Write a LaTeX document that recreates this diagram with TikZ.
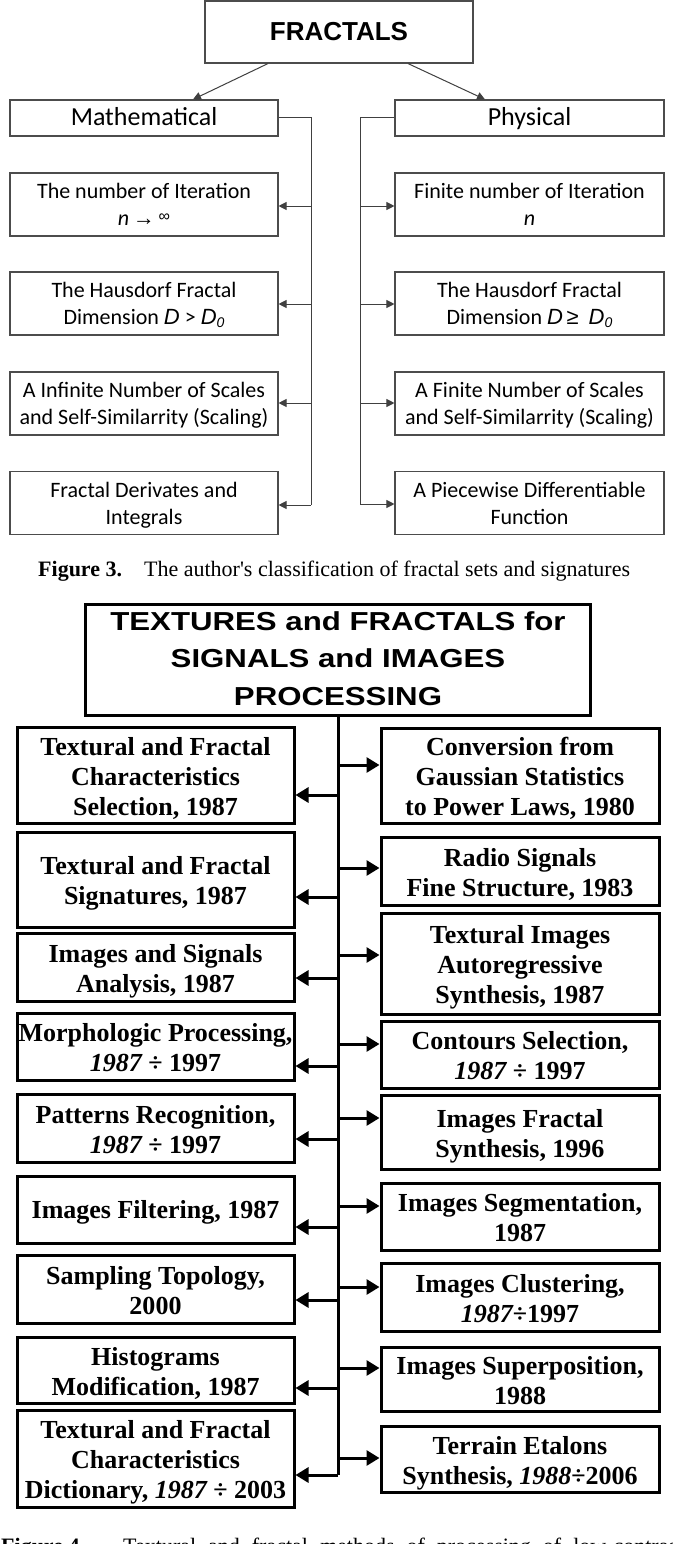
\documentclass[tikz,border=0pt]{standalone}
\usepackage{fontspec}
\setmainfont{Liberation Serif}
\newfontfamily\calfont{Carlito}
\newfontfamily\arialfont{Liberation Sans}
\newfontfamily\capfont{Liberation Serif}
\newfontfamily\titlefont[FakeStretch=1.2]{Liberation Sans}
\usetikzlibrary{arrows.meta,calc}
\newcommand\stthree{\rule[-6pt]{0pt}{24pt}}
\newcommand\sthead{\rule[-6pt]{0pt}{27.7pt}}
\newcommand\stfour{\rule[-6pt]{0pt}{29pt}}
\newcommand\sttitle{\rule[-6pt]{0pt}{28.6pt}}
\newcommand\fa{\rule{0pt}{21.5pt}}
\newcommand\fb{\rule{0pt}{26pt}}
\newcommand\fc{\rule{0pt}{22.5pt}}
\begin{document}
\begin{tikzpicture}[x=1pt,y=-1pt,
 box3/.style={draw=black!70, line width=1.1pt, inner sep=0pt, align=center,
   minimum width=268pt, minimum height=63pt, font=\calfont\fontsize{22}{27}\selectfont,
   execute at begin node=\stthree, execute at end node=\stthree},
 head3/.style={box3, minimum height=36pt, font=\calfont\fontsize{26}{30}\selectfont,
   execute at begin node=\sthead, execute at end node=\sthead},
 line3/.style={draw=black!75, line width=1pt},
 arr3/.style={line3, -{Triangle[length=8pt,width=8pt]}},
 box4/.style={draw=black, line width=3pt, inner sep=0pt, align=center,
   font=\bfseries\fontsize{26}{30}\selectfont,
   execute at begin node=\stfour, execute at end node=\stfour},
 lbox/.style={box4, minimum width=277pt},
 rbox/.style={box4, minimum width=278pt},
 line4/.style={draw=black, line width=3pt},
 arr4/.style={line4, -{Triangle[length=13pt,width=15pt]}},
 capt/.style={anchor=base west, inner sep=0pt, font=\capfont\fontsize{22}{26}\selectfont},
]
\useasboundingbox (0,0) rectangle (672,1544);
\fill[white] (0,0) rectangle (672,1544);
\clip (0,0) rectangle (672,1544);

% ---------------- Figure 3 ----------------
\node[box3, minimum height=62pt, font=\arialfont\bfseries\fontsize{26}{30}\selectfont,
  execute at begin node=\sttitle, execute at end node=\sttitle] (F) at (339,32) {FRACTALS};
\node[head3] (M) at (144,118) {Mathematical};
\node[head3, minimum width=269pt] (P) at (529.5,118) {Physical};

\node[box3] (A1) at (144,204.5) {\fa The number of Iteration\\ \textit{n}\,{\arialfont\fontsize{22}{22}\selectfont →}\,\raisebox{4pt}{\arialfont\fontsize{16}{16}\selectfont ∞}};
\node[box3] (A2) at (144,303.5) {\fa The Hausdorf Fractal\\ Dimension {\arialfont\itshape D} > {\arialfont\itshape D\raisebox{-3pt}{\fontsize{14}{14}\selectfont 0}}};
\node[box3] (A3) at (144,403.5) {\fa A Infinite Number of Scales\\ and Self-Similarrity (Scaling)};
\node[box3] (A4) at (144,503) {\fa Fractal Derivates and\\ Integrals};

\node[box3, minimum width=269pt] (B1) at (529.5,204.5) {\fa Finite number of Iteration\\ \textit{n}};
\node[box3, minimum width=269pt] (B2) at (529.5,303.5) {\fa The Hausdorf Fractal\\ Dimension {\arialfont\itshape D}\,{\arialfont ≥}\ \ {\arialfont\itshape D\raisebox{-3pt}{\fontsize{14}{14}\selectfont 0}}};
\node[box3, minimum width=269pt] (B3) at (529.5,403.5) {\fa A Finite Number of Scales\\ and Self-Similarrity (Scaling)};
\node[box3, minimum width=269pt] (B4) at (529.5,503) {\fa A Piecewise Differentiable\\ Function};

\draw[arr3] ([xshift=-71pt]F.south) -- ([xshift=49pt]M.north);
\draw[arr3] ([xshift=69pt]F.south) -- ([xshift=-44.5pt]P.north);

\coordinate (l1) at (311,206);
\coordinate (l2) at (311,304);
\coordinate (l3) at (311,403);
\coordinate (l4) at (311,505);
\coordinate (r1) at (360,206);
\coordinate (r2) at (360,304);
\coordinate (r3) at (360,403);
\coordinate (r4) at (360,504);
\draw[line3] (M.east) -| (l4);
\draw[line3] (P.west) -| (r4);
\foreach \i in {1,2,3,4}{
  \draw[arr3] (l\i) -- (l\i -| A\i.east);
  \draw[arr3] (r\i) -- (r\i -| B\i.west);
}

\node[capt] (cap3) at (38,576) {\textbf{Figure 3.}\hspace{22pt}The author's classification of fractal sets and signatures};

% ---------------- Figure 4 ----------------
\node[box4, minimum width=505pt, minimum height=111pt, font=\titlefont\bfseries\fontsize{26}{37.5}\selectfont,
  execute at begin node=\sttitle, execute at end node=\sttitle] (T) at (338,659.5) {\fc TEXTURES and FRACTALS for\\SIGNALS and IMAGES\\PROCESSING};

\node[lbox, minimum height=96pt] (L1) at (155.5,775) {\fb Textural and Fractal\\Characteristics\\Selection, 1987};
\node[lbox, minimum height=95pt] (L2) at (155.5,879.5) {\fb Textural and Fractal\\Signatures, 1987};
\node[lbox, minimum height=68pt] (L3) at (155.5,967) {\fb Images and Signals\\Analysis, 1987};
\node[lbox, minimum height=67pt] (L4) at (155.5,1046.5) {\fb Morphologic Processing,\\{\itshape 1987} ÷ 1997};
\node[lbox, minimum height=68pt] (L5) at (155.5,1128) {\fb Patterns Recognition,\\{\itshape 1987} ÷ 1997};
\node[lbox, minimum height=67pt] (L6) at (155.5,1209.5) {Images Filtering, 1987};
\node[lbox, minimum height=68pt] (L7) at (155.5,1289) {\fb Sampling Topology,\\2000};
\node[lbox, minimum height=66pt] (L8) at (155.5,1370) {\fb Histograms\\Modification, 1987};
\node[lbox, minimum height=97pt] (L9) at (155.5,1458.5) {\fb Textural and Fractal\\Characteristics\\Dictionary, {\itshape 1987} ÷ 2003};

\node[rbox, minimum height=95pt] (R1) at (520,775.5) {\fb Conversion from\\Gaussian Statistics\\to Power Laws, 1980};
\node[rbox, minimum height=68pt] (R2) at (520,871) {\fb Radio Signals\\Fine Structure, 1983};
\node[rbox, minimum height=101pt] (R3) at (520,963.5) {\fb Textural Images\\Autoregressive\\Synthesis, 1987};
\node[rbox, minimum height=67pt] (R4) at (520,1054.5) {\fb Contours Selection,\\{\itshape 1987} ÷ 1997};
\node[rbox, minimum height=74pt] (R5) at (520,1132) {\fb Images Fractal\\Synthesis, 1996};
\node[rbox, minimum height=67pt] (R6) at (520,1216.5) {\fb Images Segmentation,\\1987};
\node[rbox, minimum height=68pt] (R7) at (520,1297) {\fb Images Clustering,\\{\itshape 1987}÷1997};
\node[rbox, minimum height=64pt] (R8) at (520,1379) {\fb Images Superposition,\\1988};
\node[rbox, minimum height=66pt] (R9) at (520,1459) {\fb Terrain Etalons\\Synthesis, {\itshape 1988}÷2006};

\coordinate (tend) at (338,1475);
\draw[line4] (T.south) -- (tend);

\coordinate (tl1) at (338,795);
\coordinate (tl2) at (338,897);
\coordinate (tl3) at (338,978);
\coordinate (tl4) at (338,1066);
\coordinate (tl5) at (338,1139);
\coordinate (tl6) at (338,1227);
\coordinate (tl7) at (338,1300);
\coordinate (tl8) at (338,1388);
\coordinate (tl9) at (338,1475);
\coordinate (tr1) at (338,765);
\coordinate (tr2) at (338,868);
\coordinate (tr3) at (338,955);
\coordinate (tr4) at (338,1044);
\coordinate (tr5) at (338,1118);
\coordinate (tr6) at (338,1206);
\coordinate (tr7) at (338,1287);
\coordinate (tr8) at (338,1368);
\coordinate (tr9) at (338,1458);
\foreach \i in {1,...,9}{
  \draw[arr4] (tl\i) -- (tl\i -| L\i.east);
  \draw[arr4] (tr\i) -- (tr\i -| R\i.west);
}

\node[capt] (cap4a) at (1,1553) {\textbf{Figure 4.}};
\node[capt] (cap4b) at (123,1553) {\makebox[560pt][s]{Textural and fractal methods of processing of low-contrast}};
\end{tikzpicture}
\end{document}
